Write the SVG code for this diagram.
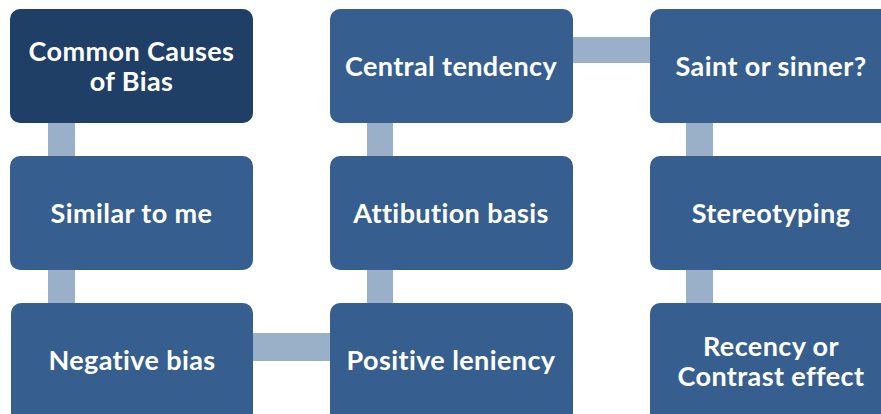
<svg xmlns="http://www.w3.org/2000/svg" width="881" height="414" viewBox="0 0 881 414">
<style>
.box{fill:#365f8f}
.head{fill:#1f3f66}
.con{fill:#9aafc8}
text{font-family:Lato,"Open Sans",sans-serif;font-weight:bold;font-size:27px;letter-spacing:0.4px;font-variant-ligatures:none;fill:#fff;text-anchor:middle}
</style>
<rect width="881" height="414" fill="#fff"/>
<g id="connectors">
<rect class="con" x="48" y="120" width="27" height="40"/>
<rect class="con" x="48" y="266" width="27" height="40"/>
<rect class="con" x="250" y="333" width="84" height="28"/>
<rect class="con" x="367" y="266" width="26" height="40"/>
<rect class="con" x="367" y="120" width="26" height="40"/>
<rect class="con" x="569" y="37" width="84" height="26"/>
<rect class="con" x="686" y="120" width="27" height="40"/>
<rect class="con" x="686" y="266" width="27" height="40"/>
</g>
<g id="n1"><rect class="head" x="10" y="9" width="243" height="114" rx="10"/><text x="131.5" y="61">Common Causes</text><text x="131.5" y="91">of Bias</text></g>
<g id="n2"><rect class="box" x="10" y="156" width="243" height="114" rx="10"/><text x="131.5" y="223">Similar to me</text></g>
<g id="n3"><rect class="box" x="11" y="303" width="242" height="120" rx="10"/><text x="132" y="370">Negative bias</text></g>
<g id="n4"><rect class="box" x="330" y="303" width="243" height="120" rx="10"/><text x="451" y="370">Positive leniency</text></g>
<g id="n5"><rect class="box" x="330" y="156" width="243" height="114" rx="10"/><text x="451" y="223">Attibution basis</text></g>
<g id="n6"><rect class="box" x="330" y="9" width="243" height="114" rx="10"/><text x="451" y="76">Central tendency</text></g>
<g id="n7"><rect class="box" x="650" y="9" width="243" height="114" rx="10"/><text x="771" y="76">Saint or sinner?</text></g>
<g id="n8"><rect class="box" x="650" y="156" width="243" height="114" rx="10"/><text x="771" y="223">Stereotyping</text></g>
<g id="n9"><rect class="box" x="650" y="303" width="243" height="120" rx="10"/><text x="771" y="356">Recency or</text><text x="771" y="386">Contrast effect</text></g>
</svg>
